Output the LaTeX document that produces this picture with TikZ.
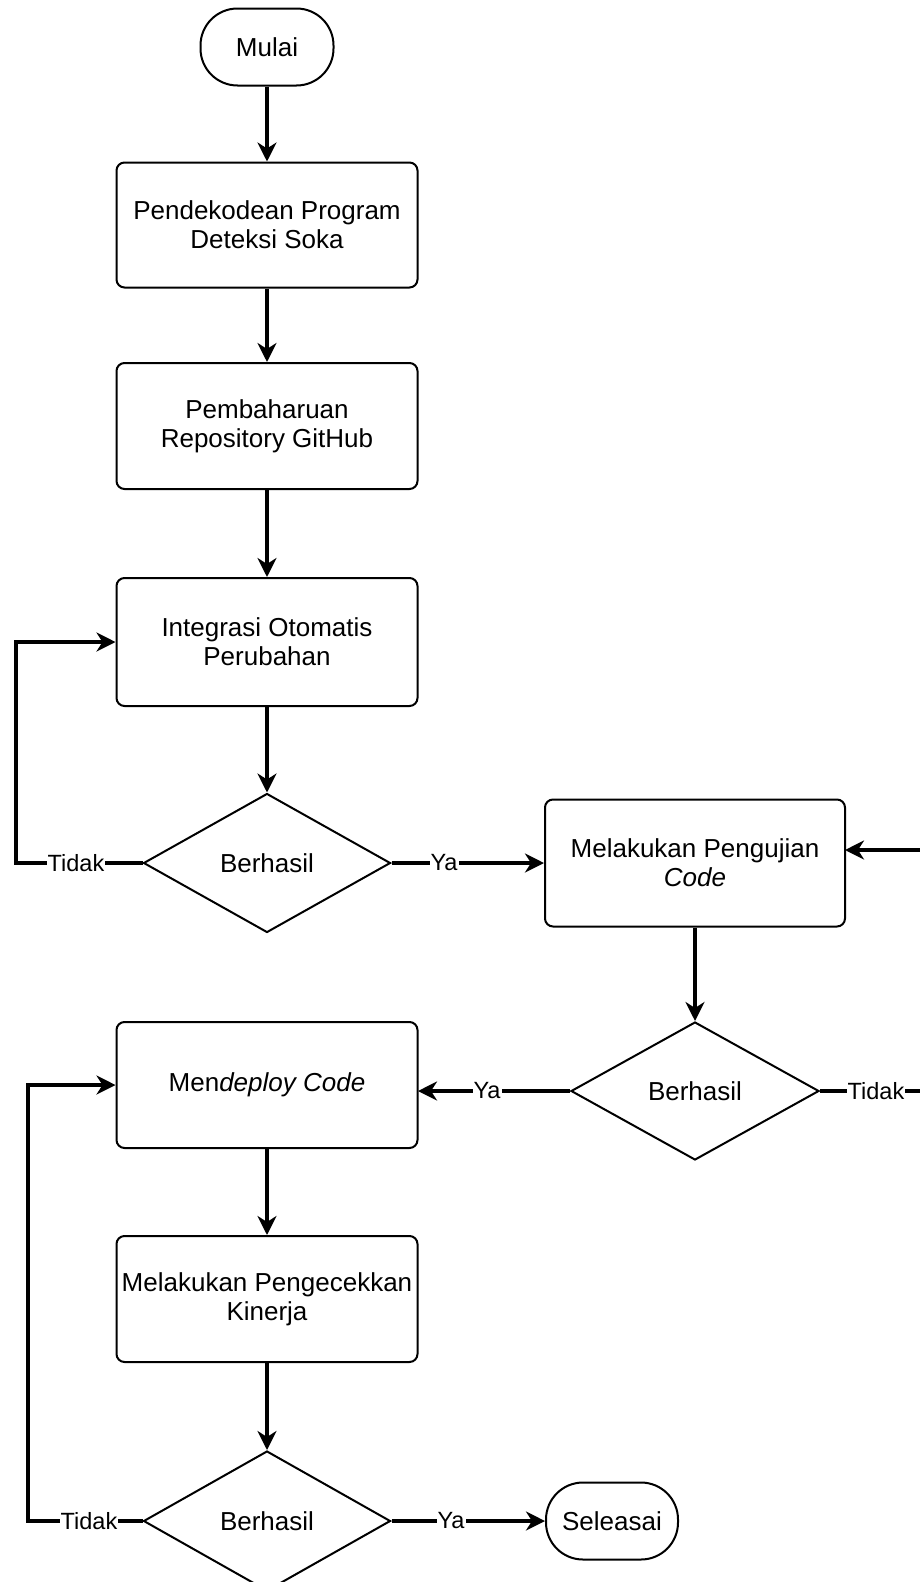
\documentclass[tikz,border=0pt]{standalone}
\usepackage{fontspec}
\setmainfont{Liberation Sans}
\usetikzlibrary{shapes.geometric,arrows.meta}
\begin{document}
\begin{tikzpicture}[x=1pt,y=-1pt,
  every node/.style={font=\fontsize{26}{29}\selectfont, align=center, inner sep=2pt},
  procbox/.style={draw, line width=2pt, rectangle, rounded corners=8pt, minimum width=301pt, minimum height=126pt},
  termbox/.style={draw, line width=2pt, rectangle, rounded corners=37pt, minimum width=133pt, minimum height=77pt},
  decbox/.style={draw, line width=2pt, diamond, minimum width=247pt, minimum height=139pt, inner sep=0pt},
  conn/.style={line width=3.4pt, -{Stealth[length=19pt,width=19pt,inset=6pt]}},
  plain/.style={line width=3.4pt},
  lbl/.style={fill=white, inner sep=1pt, font=\fontsize{23.5}{25}\selectfont}]
\useasboundingbox (0,0) rectangle (920,1582);
\fill[white] (0,0) rectangle (920,1582);
\clip (0,0) rectangle (920,1582);

\node[termbox] (mulai) at (267,47) {Mulai};
\node[procbox, minimum height=125pt] (b1) at (267,225) {Pendekodean Program\\Deteksi Soka};
\node[procbox] (b2) at (267,426) {Pembaharuan\\Repository GitHub};
\node[procbox, minimum height=128pt] (b3) at (267,642) {Integrasi Otomatis\\Perubahan};
\node[decbox] (d1) at (267,863) {Berhasil};
\node[procbox, minimum width=300pt, minimum height=127pt] (mpu) at (695,863) {Melakukan Pengujian\\\textit{Code}};
\node[decbox, minimum width=248pt, minimum height=138pt] (d2) at (695,1091) {Berhasil};
\node[procbox] (dep) at (267,1085) {Men\textit{deploy Code}};
\node[procbox] (cek) at (267,1299) {Melakukan Pengecekkan\\Kinerja};
\node[decbox, minimum height=140pt] (d3) at (267,1521) {Berhasil};
\node[termbox, minimum width=132pt] (sel) at (612,1521) {Seleasai};

\coordinate (l1a) at (16,863);
\coordinate (l1b) at (16,642);
\coordinate (r2a) at (960,1091);
\coordinate (r2b) at (960,850);
\coordinate (mpuin) at (845,850);
\coordinate (l3a) at (28,1521);
\coordinate (l3b) at (28,1085);
\coordinate (depin) at (418,1091);

\draw[conn] (mulai) -- (b1);
\draw[conn] (b1) -- (b2);
\draw[conn] (b2) -- (b3);
\draw[conn] (b3) -- (d1);
\draw[conn] (d1.west) -- (l1a) -- (l1b) -- (b3.west);
\draw[conn] (d1.east) -- (mpu.west);
\draw[conn] (mpu) -- (d2);
\draw[conn] (d2.west) -- (depin);
\draw[plain] (d2.east) -- (r2a) -- (r2b);
\draw[conn] (r2b) -- (mpuin);
\draw[conn] (dep) -- (cek);
\draw[conn] (cek) -- (d3);
\draw[conn] (d3.west) -- (l3a) -- (l3b) -- (dep.west);
\draw[conn] (d3.east) -- (sel.west);

\node[lbl] (t1) at (76,863) {Tidak};
\node[lbl] (y1) at (444,863) {Ya};
\node[lbl] (y2) at (487,1091) {Ya};
\node[lbl] (t2) at (876,1091) {Tidak};
\node[lbl] (t3) at (89,1521) {Tidak};
\node[lbl] (y3) at (451,1521) {Ya};
\end{tikzpicture}
\end{document}
